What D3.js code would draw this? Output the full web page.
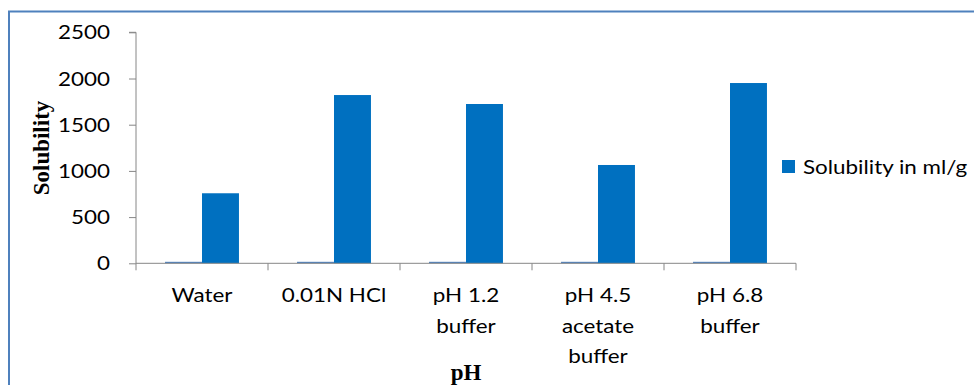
<!DOCTYPE html>
<html>
<head>
<meta charset="utf-8">
<script src="https://cdn.jsdelivr.net/npm/d3@7"></script>
<style>
  html, body { margin: 0; padding: 0; background: #fff; }
  svg { display: block; }
  .lbl { font-family: Lato, "Open Sans", sans-serif; font-size: 19px; fill: #000; }
  .ttl { font-family: "Liberation Serif", "Times New Roman", serif; font-size: 23px; font-weight: bold; fill: #000; }
</style>
</head>
<body>
<svg id="chart" width="974" height="385"></svg>
<script>
// Solvent media along the x axis (multi-line labels)
const categories = ["Water", "0.01N HCl", "pH 1.2 buffer", "pH 4.5 acetate buffer", "pH 6.8 buffer"];
const categoryLines = [["Water"], ["0.01N HCl"], ["pH 1.2", "buffer"], ["pH 4.5", "acetate", "buffer"], ["pH 6.8", "buffer"]];
// pH of each medium (plotted as a first, tiny series)
const phValues = [7, 2, 1.2, 4.5, 6.8];
// Solubility in ml/g
const solubility = [758, 1821, 1724, 1064, 1951];
const yTicks = [0, 500, 1000, 1500, 2000, 2500];
const seriesNames = ["pH", "Solubility in ml/g"];
const seriesColors = ["#4f81bd", "#0070c0"];

// labels use a slightly widened face
const WIDEN = 1.18;
const place = (x, y) => `translate(${x},${y}) scale(${WIDEN},1)`;

const svg = d3.select("#chart");

// chart frame
svg.append("path")
  .attr("d", "M9,385 V11.5 H974")
  .attr("fill", "none")
  .attr("stroke", "#4f81bd")
  .attr("stroke-width", 2);

const plot = { left: 136, right: 796, top: 32.3, bottom: 263.3 };

const x0 = d3.scaleBand().domain(categories).range([plot.left, plot.right]).paddingInner(0).paddingOuter(0);
const groupW = x0.bandwidth() * 0.56;
const x1 = d3.scaleBand().domain(seriesNames).range([0, groupW]).padding(0);
const y = d3.scaleLinear().domain([0, 2500]).range([plot.bottom, plot.top]);

// y axis
const yAxis = svg.append("g")
  .attr("transform", `translate(${plot.left},0)`)
  .call(d3.axisLeft(y).tickValues(yTicks).tickSize(7).tickFormat(d3.format("d")));
yAxis.select(".domain").attr("stroke", "#868686").attr("d", `M-7,${plot.top}H0V${plot.bottom}`);
yAxis.selectAll(".tick line").attr("stroke", "#868686");
yAxis.selectAll(".tick text")
  .attr("class", "lbl")
  .attr("x", 0).attr("dy", "0.35em")
  .attr("transform", place(-26, 0));

// bars
const rows = categories.map((c, i) => ({ cat: c, vals: [phValues[i], solubility[i]] }));
const groups = svg.append("g").selectAll("g").data(rows).join("g")
  .attr("transform", d => `translate(${x0(d.cat) + (x0.bandwidth() - groupW) / 2},0)`);
groups.selectAll("rect")
  .data(d => d.vals.map((v, k) => ({ name: seriesNames[k], v, k })))
  .join("rect")
  .attr("x", d => x1(d.name))
  .attr("width", x1.bandwidth())
  .attr("y", d => Math.min(y(d.v), plot.bottom - 1.5))
  .attr("height", d => Math.max(plot.bottom - y(d.v), 1.5))
  .attr("fill", d => seriesColors[d.k]);

// x axis
const xAxis = svg.append("g")
  .attr("transform", `translate(0,${plot.bottom})`);
xAxis.append("path")
  .attr("d", `M${plot.left},0H${plot.right}`)
  .attr("stroke", "#868686").attr("fill", "none");
const edges = categories.map(c => x0(c)).concat([plot.right]);
xAxis.selectAll("line.tk").data(edges).join("line")
  .attr("class", "tk")
  .attr("x1", d => d).attr("x2", d => d)
  .attr("y1", 0).attr("y2", 7)
  .attr("stroke", "#868686");
xAxis.selectAll("text.cat").data(categories).join("text")
  .attr("class", "lbl cat")
  .attr("text-anchor", "middle")
  .attr("transform", d => place(x0(d) + x0.bandwidth() / 2, 39))
  .each(function (d, i) {
    d3.select(this).selectAll("tspan").data(categoryLines[i]).join("tspan")
      .attr("x", 0)
      .attr("dy", (t, j) => j === 0 ? 0 : 30.5)
      .text(t => t);
  });

// axis titles
svg.append("text").attr("class", "ttl")
  .attr("text-anchor", "middle")
  .attr("transform", `translate(49,148) rotate(-90)`)
  .text("Solubility");
svg.append("text").attr("class", "ttl")
  .attr("text-anchor", "middle")
  .attr("x", (plot.left + plot.right) / 2)
  .attr("y", 380)
  .text("pH");

// legend (second series only)
const leg = svg.append("g").attr("transform", "translate(782,160)");
leg.append("rect").attr("width", 13).attr("height", 13).attr("fill", seriesColors[1]);
leg.append("text").attr("class", "lbl").attr("transform", place(21, 13.5)).text(seriesNames[1]);
</script>
</body>
</html>
